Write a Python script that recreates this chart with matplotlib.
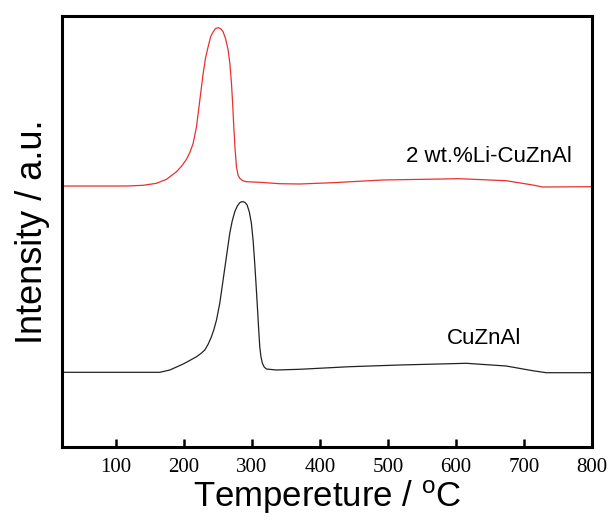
import matplotlib
matplotlib.use("Agg")
import matplotlib.pyplot as plt

# Temperature (°C) and intensity (a.u., offset)
li_temp = [20, 115.7, 140.2, 159.7, 174.4, 189.1, 196.5, 203.8, 209, 213.6, 218.5,
           223.4, 228.3, 231.8, 235.6, 239.2, 243.0, 246.7, 250.3, 254.0, 257.6,
           261.4, 265.0, 267.6, 269.9, 271.7, 273.3, 275.2, 277.2, 279.5, 282.1,
           286.5, 291.9, 311.5, 340.8, 370, 419, 492.6, 605, 673.7, 712.8, 727.5, 800]
li_int = [261, 261, 261.7, 263.7, 267.7, 275.3, 280.8, 287.7, 295, 303.7, 320.3,
          347, 373.7, 389, 400.3, 410, 415.3, 418.5, 419.3, 418.3, 415.3,
          408, 397, 383, 363.7, 343, 320.3, 298, 280.3, 272, 268.7,
          266.3, 265.3, 264.7, 263.3, 263, 264.3, 267, 268.3, 266.3, 262, 260, 260.3]

cz_temp = [20, 164.6, 179.3, 188.5, 198.9, 208.5, 218.5, 225, 230.7, 235.8, 240.5,
           244.3, 247.9, 252.7, 257.6, 262.5, 267.4, 271.0, 274.8, 278.5, 282.1,
           284.6, 287.0, 289.9, 292.9, 296.2, 299.2, 301.8, 304.1, 306.1, 308.0,
           309.8, 311.5, 313.3, 315.4, 318.0, 321.3, 336, 370, 443.6, 517, 615,
           673.7, 712.8, 732.5, 800]
cz_int = [74.7, 74.7, 77, 79.8, 83, 86.5, 90.3, 93.5, 97, 103, 110.3,
          118, 127, 143.7, 167, 190.3, 213.7, 226, 235.3, 241, 244.3,
          245.2, 245.3, 244.5, 242, 235, 223.7, 206, 183.7, 162, 140.3,
          119, 100.3, 90, 83.7, 80, 78, 77, 77.7, 80.3, 82, 83.7,
          81, 76.3, 74.3, 74.3]

x_ticks = [100, 200, 300, 400, 500, 600, 700, 800]
labels = ["2 wt.%Li-CuZnAl", "CuZnAl"]

fig = plt.figure(figsize=(6.12, 5.21), dpi=100)
ax = fig.add_axes([61.5 / 612, 74 / 521, 530.5 / 612, 431 / 521])

ax.plot(li_temp, li_int, color="#e8302f", lw=0.9)
ax.plot(cz_temp, cz_int, color="#222222", lw=0.9)

ax.set_xlim(20, 800)
ax.set_ylim(0, 431)
ax.set_xticks(x_ticks)
ax.set_xticklabels([str(t) for t in x_ticks], family="Liberation Serif", fontsize=15)
ax.set_yticks([])
ax.tick_params(axis="x", direction="in", length=6, width=1.8, pad=8, top=False)
for s in ax.spines.values():
    s.set_linewidth(2.2)
    s.set_color("black")

ax.text(526, 285.3, labels[0], family="Liberation Sans", fontsize=16, ha="left", va="baseline")
ax.text(587, 103, labels[1], family="Liberation Sans", fontsize=16, ha="left", va="baseline")

ax.set_xlabel("Tempereture / $\\mathregular{^{o}}$C", family="Liberation Sans", fontsize=25, labelpad=1)
ax.set_ylabel("Intensity / a.u.", family="Liberation Sans", fontsize=26, labelpad=8)

fig.savefig("out.png", dpi=100)
